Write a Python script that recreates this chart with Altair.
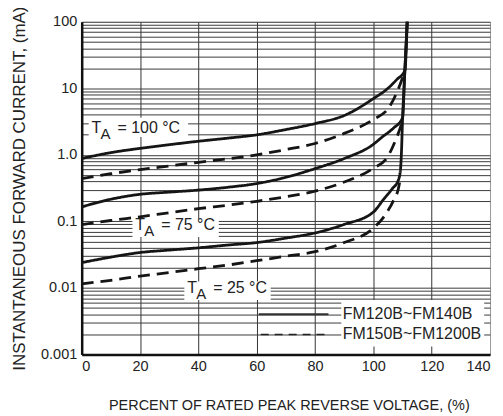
import altair as alt
import pandas as pd

# ---- data ----
x_ticks = [0, 20, 40, 60, 80, 100, 120, 140]
decades = [0.001, 0.01, 0.1, 1, 10, 100]
multipliers = [1, 2, 3, 4, 5, 6, 7, 8, 9]

# FM120B~FM140B (solid)
s100_x = [0, 10, 20, 30, 40, 50, 60, 70, 80, 90, 100, 105, 108, 110.8, 111.6]
s100_y = [0.88, 1.08, 1.25, 1.42, 1.6, 1.78, 2.0, 2.4, 2.95, 3.9, 7.0, 10.0, 13.5, 18.5, 100]
s75_x = [0, 10, 20, 30, 40, 50, 60, 70, 80, 90, 100, 103, 106.8, 110, 110.8, 111.6]
s75_y = [0.165, 0.215, 0.255, 0.275, 0.295, 0.325, 0.37, 0.46, 0.62, 0.88, 1.44, 1.85, 2.5, 3.6, 18.5, 100]
s25_x = [0, 10, 20, 30, 40, 50, 60, 70, 80, 90, 100, 103.7, 106.5, 108.6, 109.3, 109.6, 110, 110.8, 111.6]
s25_y = [0.024, 0.029, 0.034, 0.037, 0.040, 0.044, 0.048, 0.056, 0.067, 0.09, 0.138, 0.22, 0.31, 0.42, 0.6, 1.0, 3.3, 18.5, 100]

# FM150B~FM1200B (dashed)
d100_x = [0, 10, 20, 30, 40, 50, 60, 70, 80, 90, 100, 105.4, 109.3, 110.6]
d100_y = [0.44, 0.52, 0.6, 0.68, 0.77, 0.87, 1.0, 1.2, 1.48, 2.1, 3.4, 5.2, 11.8, 17]
d75_x = [0, 10, 20, 30, 40, 50, 60, 70, 80, 90, 100, 104.8, 108, 109.3, 110]
d75_y = [0.089, 0.103, 0.117, 0.135, 0.155, 0.175, 0.2, 0.235, 0.285, 0.39, 0.63, 0.92, 1.83, 2.6, 3.4]
d25_x = [0, 10, 20, 30, 40, 50, 60, 70, 80, 90, 100, 103.6, 107, 108.5, 109.3]
d25_y = [0.0115, 0.013, 0.015, 0.017, 0.0194, 0.022, 0.0256, 0.03, 0.035, 0.048, 0.079, 0.117, 0.21, 0.3, 0.45]

temp_labels = ["= 100 °C", "= 75 °C", "= 25 °C"]
legend_labels = ["FM120B~FM140B", "FM150B~FM1200B"]

# ---- tables ----
rows = []
for name, kind, xs_, ys_ in [
    ("s100", "solid", s100_x, s100_y), ("s75", "solid", s75_x, s75_y), ("s25", "solid", s25_x, s25_y),
    ("d100", "dashed", d100_x, d100_y), ("d75", "dashed", d75_x, d75_y), ("d25", "dashed", d25_x, d25_y),
]:
    for i, (xv, yv) in enumerate(zip(xs_, ys_)):
        rows.append({"series": name, "kind": kind, "x": xv, "y": yv, "idx": i})
curves = pd.DataFrame(rows)

y_grid = sorted(set([round(m * d, 6) for d in decades[:-1] for m in multipliers] + [100]))

ann = pd.DataFrame({"x": [3.4, 18.4, 36.2], "y": [2.5, 0.0883, 0.0101], "rest": temp_labels})
boxes = pd.DataFrame({
    "x": [2.4, 17.4, 35.2, 89.0],
    "x2": [36.5, 47.0, 64.8, 138.0],
    "y": [1.85, 0.058, 0.0066, 0.00132],
    "y2": [3.6, 0.108, 0.0125, 0.0066],
})
leg_lines = pd.DataFrame({"x": [60.7, 61.4], "x2": [84.6, 84.6], "y": [0.004, 0.002], "kind": ["solid", "dashed"]})
leg_text = pd.DataFrame({"x": [89.5, 89.5], "y": [0.004, 0.002], "label": legend_labels})

# ---- encodings ----
font = "Liberation Sans"
label_expr = ("datum.value == 100 ? '100' : datum.value == 10 ? '10' : datum.value == 1 ? '1.0' : "
              "datum.value == 0.1 ? '0.1' : datum.value == 0.01 ? '0.01' : datum.value == 0.001 ? '0.001' : ''")

x_axis = alt.Axis(
    values=x_ticks, grid=True, ticks=False, labelPadding=5,
    labelFont=font, labelFontSize=14.5, labelColor="#222",
    domainColor="#111", domainWidth=2.5,
    gridColor={"condition": {"test": "datum.value == 140", "value": "#999"}, "value": "#333"},
    gridWidth=1,
    title="PERCENT OF RATED PEAK REVERSE VOLTAGE, (%)",
    titleFont=font, titleFontSize=14.5, titleFontWeight="normal", titleColor="#222",
    titleY=55, titleX=208, titleBaseline="alphabetic", titleAnchor="middle", titleAlign="center",
)
y_axis = alt.Axis(
    values=y_grid, grid=True, ticks=False, labelPadding=5, labelOverlap=False, labelExpr=label_expr,
    labelFont=font, labelFontSize=14.5, labelColor="#222",
    domainColor="#111", domainWidth=2.5, gridColor="#3a3a3a", gridWidth=1,
    title="INSTANTANEOUS FORWARD CURRENT, (mA)",
    titleFont=font, titleFontSize=17, titleFontWeight="normal", titleColor="#222",
    titleX=-57, titleY=167, titleBaseline="alphabetic", titleAngle=-90, titleAlign="center",
)
xs = alt.Scale(domain=[0, 140], nice=False, zero=False)
ys = alt.Scale(type="log", domain=[0.001, 100], nice=False)


def X(field="x"):
    return alt.X(f"{field}:Q", scale=xs, axis=x_axis)


def Y(field="y"):
    return alt.Y(f"{field}:Q", scale=ys, axis=y_axis)


rects = alt.Chart(boxes).mark_rect(color="white").encode(
    x=X(), x2="x2:Q", y=Y(), y2="y2:Q"
)

lines = alt.Chart(curves).mark_line(interpolate="monotone", strokeWidth=2.8, color="#151515").encode(
    x=X(), y=Y(), detail="series:N", order="idx:Q",
    strokeDash=alt.StrokeDash("kind:N", scale=alt.Scale(domain=["solid", "dashed"], range=[[1, 0], [12, 7]]), legend=None),
)

t_T = alt.Chart(ann).mark_text(text="T", align="left", baseline="middle", font=font, fontSize=16, color="#222").encode(x=X(), y=Y())
t_A = alt.Chart(ann).mark_text(text="A", align="left", baseline="middle", font=font, fontSize=15, color="#222", dx=9, dy=6).encode(x=X(), y=Y())
t_rest = alt.Chart(ann).mark_text(align="left", baseline="middle", font=font, fontSize=16, color="#222", dx=26).encode(x=X(), y=Y(), text="rest:N")

leg_solid = alt.Chart(leg_lines[leg_lines.kind == "solid"]).mark_rule(strokeWidth=2, color="#333").encode(
    x=X(), x2="x2:Q", y=Y())
leg_dash = alt.Chart(leg_lines[leg_lines.kind == "dashed"]).mark_rule(strokeWidth=1.5, color="#222", strokeDash=[8, 6]).encode(
    x=X(), x2="x2:Q", y=Y())
leg_txt = alt.Chart(leg_text).mark_text(align="left", baseline="middle", font=font, fontSize=16, color="#222").encode(
    x=X(), y=Y(), text="label:N")

chart = alt.layer(rects, lines, t_T, t_A, t_rest, leg_solid, leg_dash, leg_txt).properties(
    width=410, height=334,
    padding={"left": 74, "top": 13, "right": 5, "bottom": 60},
    autosize=alt.AutoSizeParams(type="none"),
).configure_view(stroke="#888", strokeWidth=1.5).configure(background="white")

chart.save("out.html", embed_options={"renderer": "svg", "actions": False})
